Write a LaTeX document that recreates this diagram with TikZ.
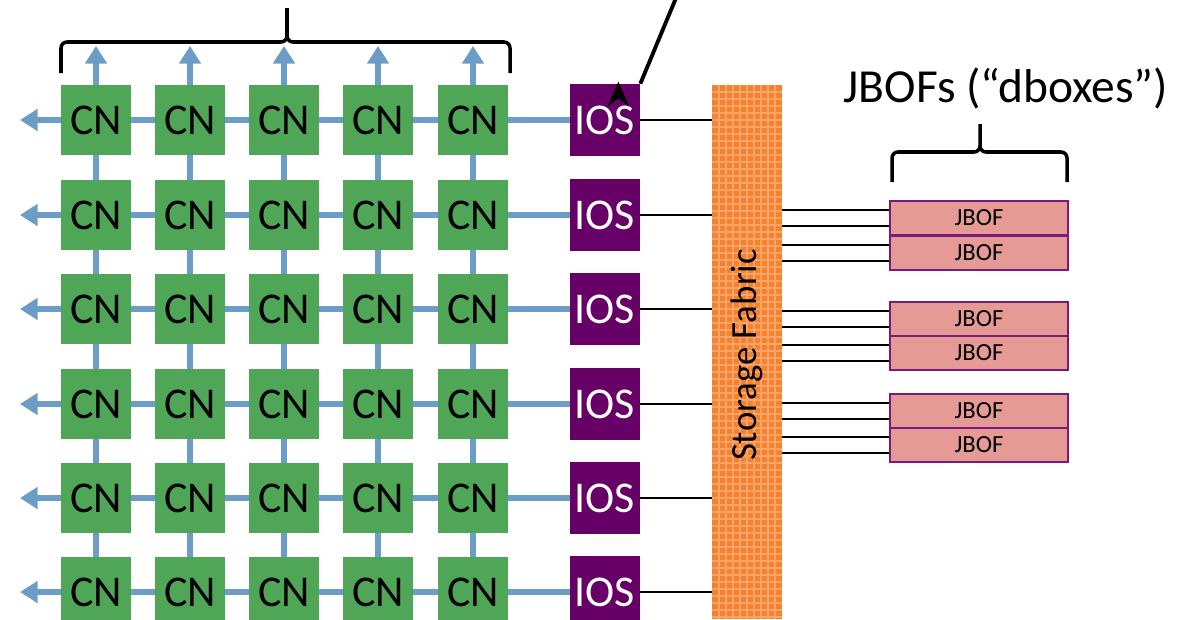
\documentclass[tikz,border=0pt]{standalone}
\usepackage{fontspec}
\setmainfont{Carlito}
\usetikzlibrary{arrows.meta}
\definecolor{cngreen}{HTML}{4FA657}
\definecolor{iospurple}{HTML}{660066}
\definecolor{netblue}{HTML}{6C9DC6}
\definecolor{fab}{HTML}{F5822E}
\definecolor{fabline}{HTML}{FAA468}
\definecolor{jpink}{HTML}{E59A95}
\definecolor{jborder}{HTML}{7A1A7A}
\begin{document}
\begin{tikzpicture}[x=0.02cm,y=-0.02cm,
  cn/.style={fill=cngreen,minimum width=1.4cm,minimum height=1.4cm,inner sep=0,font=\fontsize{25}{25}\selectfont},
  ios/.style={fill=iospurple,text=white,minimum width=1.4cm,minimum height=1.44cm,inner sep=0,font=\fontsize{25}{25}\selectfont},
  jbof/.style={fill=jpink,draw=jborder,line width=1pt,minimum width=3.56cm,minimum height=0.68cm,inner sep=0,font=\fontsize{14}{14}\selectfont},
  net/.style={draw=netblue,line width=3.5pt,-{Triangle[length=10pt,width=12pt]}},
  wire/.style={draw=black,line width=1.3pt}]
\useasboundingbox (0,0) rectangle (1179,619);
% fabric
\fill[fab] (712,85) rectangle (782,619);
\foreach \x in {719,726,...,781} \draw[fabline,line width=0.8pt] (\x,85) -- (\x,619);
\foreach \y in {92,99,...,618} \draw[fabline,line width=0.8pt] (712,\y) -- (782,\y);
\node[rotate=90,font=\fontsize{21}{21}\selectfont] (fabtext) at (747,355) {Storage Fabric};
\coordinate (fabl) at (712,0);
\coordinate (fabr) at (782,0);
% blue network
\foreach \r/\y in {1/120,2/215,3/309,4/404,5/498,6/592} {
  \coordinate (L\r) at (20,\y);
  \draw[net] (570,\y) -- (L\r);
}
\foreach \c/\x in {1/96,2/190,3/284,4/378,5/473} {
  \coordinate (T\c) at (\x,46);
  \draw[net] (\x,619) -- (T\c);
}
% nodes
\foreach \r/\y in {1/120,2/215,3/309,4/404,5/498,6/592} {
  \foreach \c/\x in {1/96,2/190,3/284,4/378,5/473}
    \node[cn] (cn\r\c) at (\x,\y) {CN};
  \node[ios] (ios\r) at (605,\y) {IOS};
  \draw[wire] (ios\r.east) -- (ios\r.east -| fabl);
}
% brace over CNs
\coordinate (b1) at (61,73); \coordinate (b2) at (510,73); \coordinate (btip) at (287,8);
\draw[line width=2pt,line join=round] (b1) -- (61,48) to[out=90,in=180] (67,42) -- (281,42) to[out=0,in=-90] (287,36) -- (btip);
\draw[line width=2pt,line join=round] (b2) -- (510,48) to[out=90,in=0] (504,42) -- (293,42) to[out=180,in=-90] (287,36);
% arrow to IOS
\coordinate (astart) at (676,-2);
\draw[line width=2.2pt,-{Stealth[length=14pt,width=12pt]}] (astart) -- (ios1.north east) ++(-22,-2);
% JBOFs
\foreach \i/\y in {1/218,2/253,3/319,4/353,5/411,6/445}
  \node[jbof] (j\i) at (979,\y) {JBOF};
\foreach \i in {1,...,6} {
  \draw[wire] (j\i.west) ++(0,-8) coordinate (a\i) -- (a\i -| fabr);
  \draw[wire] (j\i.west) ++(0,8) coordinate (b\i) -- (b\i -| fabr);
}
% brace over JBOFs
\draw[line width=2pt,line join=round] (892,182) -- (892,158) to[out=90,in=180] (898,152) -- (974,152) to[out=0,in=-90] (980,146) -- (980,124);
\draw[line width=2pt,line join=round] (1067,182) -- (1067,158) to[out=90,in=0] (1061,152) -- (986,152) to[out=180,in=-90] (980,146);
\node[font=\fontsize{27}{27}\selectfont] (jlabel) at (1006,88) {JBOFs (“dboxes”)};
\end{tikzpicture}
\end{document}
